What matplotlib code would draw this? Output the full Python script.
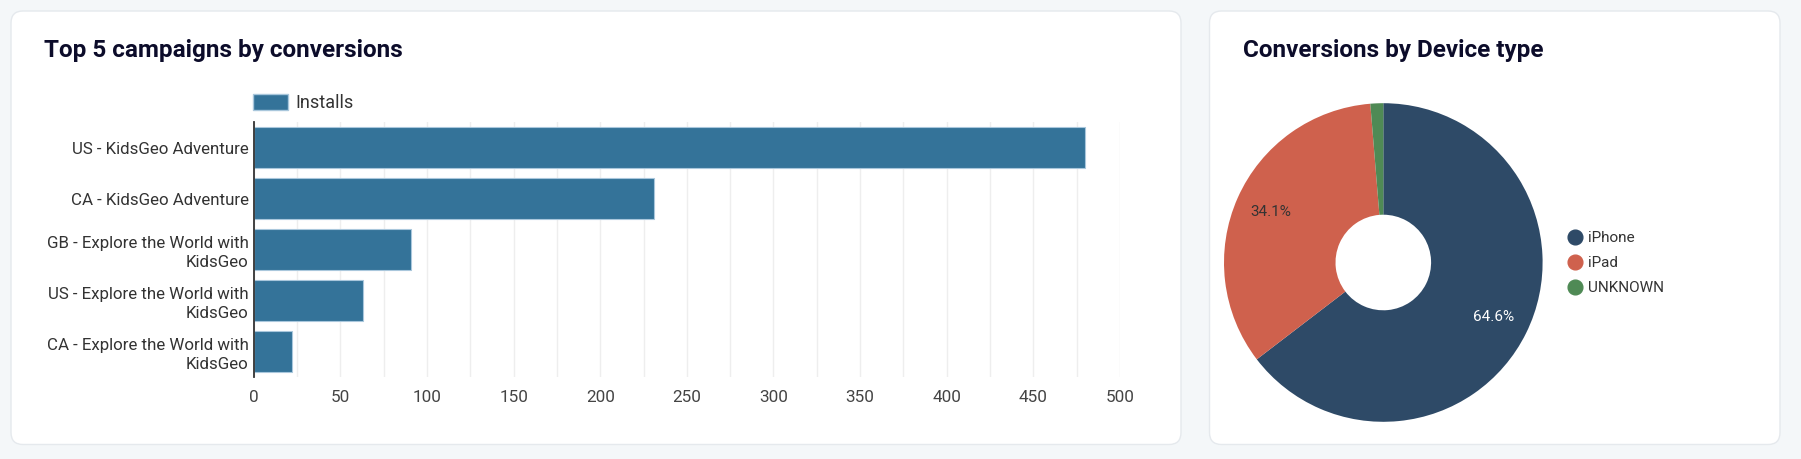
import matplotlib
matplotlib.use('Agg')
import matplotlib.pyplot as plt
from matplotlib.patches import FancyBboxPatch, Patch
from matplotlib.lines import Line2D
from matplotlib.ticker import MultipleLocator

# data
campaigns = ['US - KidsGeo Adventure',
             'CA - KidsGeo Adventure',
             'GB - Explore the World with\nKidsGeo',
             'US - Explore the World with\nKidsGeo',
             'CA - Explore the World with\nKidsGeo']
installs = [480, 231, 91, 63, 22]
x_ticks = [0, 50, 100, 150, 200, 250, 300, 350, 400, 450, 500]

devices = ['iPhone', 'iPad', 'UNKNOWN']
device_share = [64.6, 34.1, 1.3]

bar_color = '#347399'
pie_colors = ['#2e4a67', '#cf614d', '#4f8a55']
title_color = '#0c0c2a'

plt.rcParams['font.family'] = ['Roboto', 'DejaVu Sans']

W, H = 1801, 459
fig = plt.figure(figsize=(W / 100, H / 100), dpi=100)
fig.patch.set_facecolor('#f4f7f9')

# cards (in inches)
for x0, x1 in [(11, 1181), (1209.5, 1780)]:
	card = FancyBboxPatch((x0 / 100, (H - 444.5) / 100), (x1 - x0) / 100, 433.5 / 100,
		boxstyle='round,pad=0,rounding_size=0.12', transform=fig.dpi_scale_trans,
		facecolor='white', edgecolor='#e5e9ed', linewidth=1, zorder=-10)
	fig.patches.append(card)

fig.text(44 / W, 1 - 56.7 / H, 'Top 5 campaigns by conversions', fontsize=17.5,
	fontweight='bold', color=title_color, va='baseline', ha='left')
fig.text(1243 / W, 1 - 56.7 / H, 'Conversions by Device type', fontsize=17.5,
	fontweight='bold', color=title_color, va='baseline', ha='left')

# bar chart
ax = fig.add_axes([253.7 / W, 1 - 377.3 / H, (1120 - 253.7) / W, (377.3 - 122.3) / H])
ax.set_facecolor('none')
ax.barh(range(len(campaigns)), installs, height=0.8, color=bar_color,
	edgecolor='#a9c7dc', linewidth=0.8, zorder=3, label='Installs')
ax.set_yticks(range(len(campaigns)))
ax.set_yticklabels(campaigns, fontsize=12.2, color='#333333', linespacing=1.28)
ax.set_ylim(-0.5, len(campaigns) - 0.5)
ax.invert_yaxis()
ax.set_xlim(0, 500)
ax.set_xticks(x_ticks)
ax.xaxis.set_minor_locator(MultipleLocator(25))
ax.tick_params(axis='x', which='both', length=0, labelsize=12.3, labelcolor='#444444', pad=9)
ax.tick_params(axis='y', length=0, pad=3.5)
ax.grid(axis='x', which='both', color='#eeeeee', linewidth=1, zorder=0)
for s in ['top', 'right', 'bottom']:
	ax.spines[s].set_visible(False)
ax.spines['left'].set_color('#333333')
ax.spines['left'].set_linewidth(1.3)
ax.spines['left'].set_zorder(4)

ax.legend(handles=[Patch(facecolor=bar_color, edgecolor='#a9c7dc', label='Installs')],
	loc='lower left', bbox_to_anchor=(252.7 / W, 1 - 112 / H), bbox_transform=fig.transFigure,
	frameon=False, fontsize=13, handlelength=1.97, handleheight=0.98, handletextpad=0.42,
	borderpad=0, borderaxespad=0, labelcolor='#333333')

# donut
R = 159.3
cx, cy = 1383.3, 262.5
ax2 = fig.add_axes([(cx - R) / W, 1 - (cy + R) / H, 2 * R / W, 2 * R / H])


def pct_label(p):
	return '{:.1f}%'.format(p) if p > 5 else ''


wedges, texts, autotexts = ax2.pie(device_share, colors=pie_colors, startangle=90,
	counterclock=False, autopct=pct_label, pctdistance=0.775,
	wedgeprops=dict(width=0.7, linewidth=0), textprops=dict(fontsize=11))
autotexts[0].set_color('white')
autotexts[1].set_color('#333333')
ax2.set_xlim(-1, 1)
ax2.set_ylim(-1, 1)

handles = [Line2D([], [], marker='o', linestyle='none', markersize=10.6,
	markerfacecolor=c, markeredgecolor=c) for c in pie_colors]
fig.legend(handles, devices, loc='center left', bbox_to_anchor=(1567 / W, 1 - 263 / H),
	frameon=False, fontsize=11, handlelength=1.0, handletextpad=0.35, labelspacing=0.72,
	borderpad=0, borderaxespad=0, labelcolor='#333333')

fig.savefig('out.png', dpi=100, facecolor=fig.get_facecolor())
